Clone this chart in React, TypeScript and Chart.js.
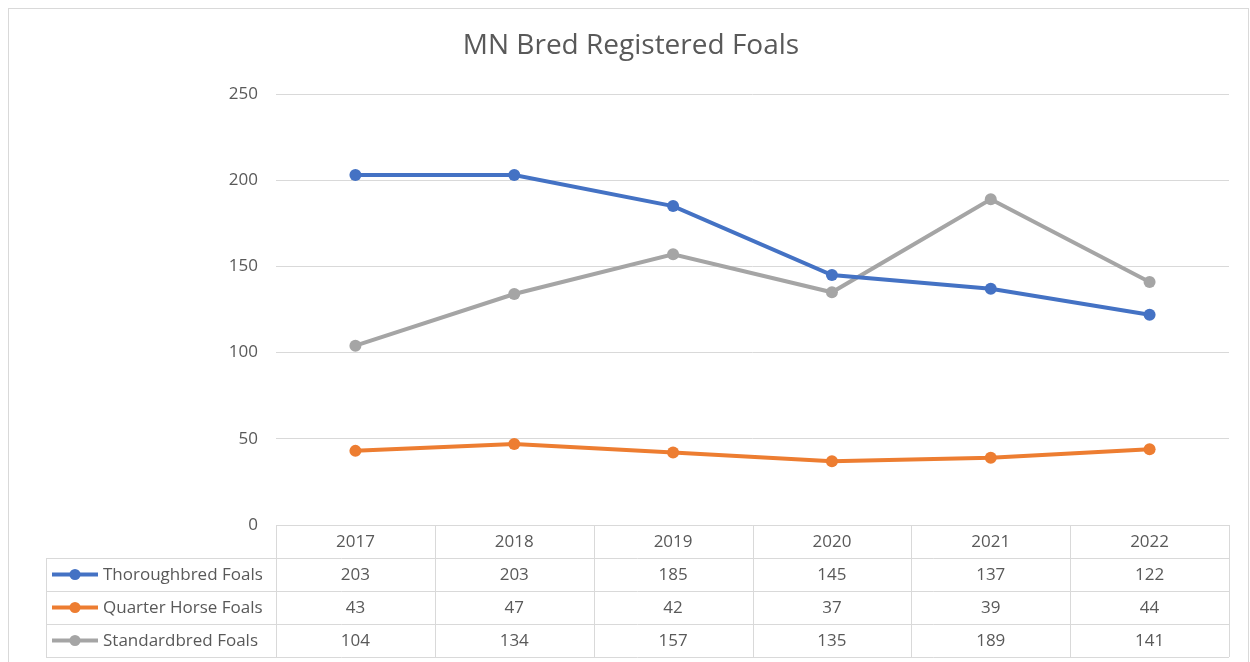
import React, { useEffect, useRef } from "react";
import { Chart, registerables } from "chart.js";

Chart.register(...registerables);

const years = ["2017", "2018", "2019", "2020", "2021", "2022"];
const thoroughbred = [203, 203, 185, 145, 137, 122];
const quarterHorse = [43, 47, 42, 37, 39, 44];
const standardbred = [104, 134, 157, 135, 189, 141];
const seriesNames = ["Thoroughbred Foals", "Quarter Horse Foals", "Standardbred Foals"];
const seriesColors = ["#4472C4", "#ED7D31", "#A5A5A5"];
const chartTitle = "MN Bred Registered Foals";

const FONT = "'Open Sans', sans-serif";
const TEXT = "#595959";
const GRID = "#d9d9d9";

const tablePlugin = {
  id: "dataTable",
  afterDraw(chart: any) {
    const { ctx, chartArea } = chart;
    const left = chartArea.left;
    const right = chartArea.right;
    const top = chartArea.bottom;
    const rowH = 33;
    const legendLeft = 37;
    const n = years.length;
    const band = (right - left) / n;
    const px = (v: number) => Math.round(v) + 0.5;
    ctx.save();
    ctx.strokeStyle = GRID;
    ctx.lineWidth = 1;
    ctx.beginPath();
    ctx.moveTo(left, px(top));
    ctx.lineTo(right, px(top));
    for (let k = 1; k <= 4; k++) {
      ctx.moveTo(legendLeft, px(top + rowH * k));
      ctx.lineTo(right, px(top + rowH * k));
    }
    for (let i = 0; i <= n; i++) {
      const x = px(left + band * i);
      ctx.moveTo(x, top);
      ctx.lineTo(x, top + rowH * 4);
    }
    ctx.moveTo(px(legendLeft), top + rowH);
    ctx.lineTo(px(legendLeft), top + rowH * 4);
    ctx.stroke();

    ctx.font = `17px ${FONT}`;
    ctx.fillStyle = TEXT;
    ctx.textAlign = "center";
    ctx.textBaseline = "middle";
    const xs = chart.scales.x;
    years.forEach((y, i) => {
      ctx.fillText(y, xs.getPixelForValue(i), top + rowH / 2 + 1);
    });
    const rows = [thoroughbred, quarterHorse, standardbred];
    rows.forEach((vals, r) => {
      const cy = top + rowH * (r + 1) + rowH / 2 + 1;
      vals.forEach((v, i) => {
        ctx.fillStyle = TEXT;
        ctx.textAlign = "center";
        ctx.fillText(String(v), xs.getPixelForValue(i), cy);
      });
      ctx.strokeStyle = seriesColors[r];
      ctx.lineWidth = 4;
      ctx.beginPath();
      ctx.moveTo(43, cy - 1);
      ctx.lineTo(89, cy - 1);
      ctx.stroke();
      ctx.fillStyle = seriesColors[r];
      ctx.beginPath();
      ctx.arc(66, cy - 1, 5.5, 0, Math.PI * 2);
      ctx.fill();
      ctx.fillStyle = TEXT;
      ctx.textAlign = "left";
      ctx.fillText(seriesNames[r], 94, cy);
    });
    ctx.restore();
  },
};

export default function App() {
  const ref = useRef<HTMLCanvasElement>(null);
  useEffect(() => {
    if (!ref.current) return;
    const mk = (label: string, data: number[], color: string) => ({
      label,
      data,
      borderColor: color,
      backgroundColor: color,
      pointBackgroundColor: color,
      pointBorderColor: color,
      borderWidth: 4,
      pointRadius: 6,
      pointBorderWidth: 0,
      tension: 0,
    });
    const chart = new Chart(ref.current, {
      type: "line",
      data: {
        labels: years,
        datasets: [
          mk(seriesNames[0], thoroughbred, seriesColors[0]),
          mk(seriesNames[1], quarterHorse, seriesColors[1]),
          mk(seriesNames[2], standardbred, seriesColors[2]),
        ],
      },
      options: {
        animation: false,
        responsive: false,
        layout: { padding: { left: 24, right: 19, top: 0, bottom: 137 } },
        plugins: {
          legend: { display: false },
          tooltip: { enabled: false },
          title: {
            display: true,
            text: chartTitle,
            color: TEXT,
            font: { family: FONT, size: 28, weight: "normal" as any },
            padding: { top: 20, bottom: 31.4 },
          },
        },
        scales: {
          x: {
            display: false,
            offset: true,
          },
          y: {
            min: 0,
            max: 250,
            ticks: {
              stepSize: 50,
              color: TEXT,
              font: { family: FONT, size: 17 },
              padding: 18,
            },
            grid: { color: GRID, drawTicks: false },
            border: { display: false },
            afterFit: (scale: any) => {
              scale.width = 243;
            },
          },
        },
      },
      plugins: [tablePlugin],
    });
    return () => chart.destroy();
  }, []);
  return (
    <div
      style={{
        position: "absolute",
        left: 8,
        top: 8,
        width: 1241,
        height: 654,
        boxSizing: "border-box",
        borderTop: "1px solid #d9d9d9",
        borderLeft: "1px solid #d9d9d9",
        borderRight: "1px solid #d9d9d9",
        background: "#fff",
      }}
    >
      <canvas ref={ref} width={1239} height={653} style={{ display: "block", width: 1239, height: 653 }} />
    </div>
  );
}
